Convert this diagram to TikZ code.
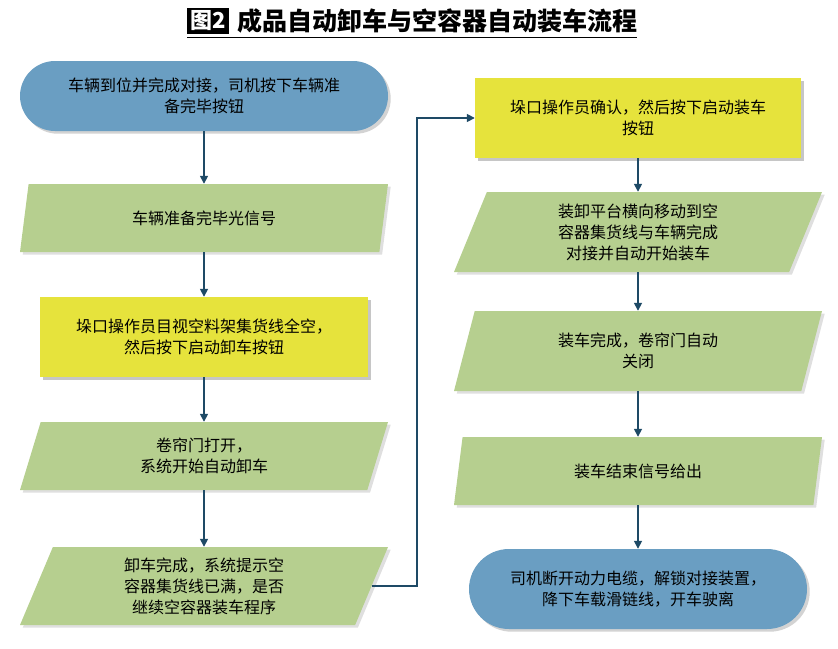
\documentclass[tikz,border=0pt]{standalone}
\usepackage{fontspec}
\setmainfont{Noto Sans CJK SC}
\usetikzlibrary{shapes.geometric,shapes.misc,shadows,arrows.meta,positioning}
\definecolor{termblue}{HTML}{6A9EC2}
\definecolor{iogreen}{HTML}{B6CF8F}
\definecolor{opyellow}{HTML}{E6E33C}
\definecolor{flowline}{HTML}{1E4A66}
\tikzset{
  every node/.style={font=\fontsize{16}{21}\selectfont, align=center, inner sep=0pt},
  terminal/.style={rounded rectangle, fill=termblue, minimum width=368pt, minimum height=70pt,
    drop shadow={opacity=0.35}},
  io/.style={trapezium, trapezium left angle=60, trapezium right angle=120, trapezium stretches body,
    fill=iogreen, minimum width=368pt, minimum height=68pt, drop shadow={opacity=0.25}},
  op/.style={rectangle, fill=opyellow, minimum width=328pt, minimum height=80pt,
    drop shadow={opacity=0.45}},
  flow/.style={draw=flowline, line width=1.6pt, -{Triangle[length=8pt,width=8pt]}}
}
\begin{document}
\begin{tikzpicture}[x=1pt,y=-1pt]
\useasboundingbox (0,0) rectangle (838,648);
% title
\node[fill=black, text=white, font=\fontsize{22}{24}\selectfont\bfseries, inner sep=3pt] (tag) at (208,21) {图2};
\node[right=8pt of tag, font=\fontsize{25}{28}\selectfont\bfseries] (title) {成品自动卸车与空容器自动装车流程};
\draw[line width=1pt] ([yshift=-3pt]tag.south west) -- ([yshift=-3pt]tag.south west -| title.east);
% left column
\node[terminal] (s1) at (204,96) {车辆到位并完成对接，司机按下车辆准\\备完毕按钮};
\node[io] (s2) at (204,218) {车辆准备完毕光信号};
\node[op] (s3) at (204,337) {垛口操作员目视空料架集货线全空，\\然后按下启动卸车按钮};
\node[io] (s4) at (204,456) {卷帘门打开，\\系统开始自动卸车};
\node[io, minimum height=78pt] (s5) at (204,586) {卸车完成，系统提示空\\容器集货线已满，是否\\继续空容器装车程序};
% right column
\node[op, minimum width=326pt] (s6) at (638,118) {垛口操作员确认，然后按下启动装车\\按钮};
\node[io, minimum height=80pt] (s7) at (638,232) {装卸平台横向移动到空\\容器集货线与车辆完成\\对接并自动开始装车};
\node[io, minimum height=80pt] (s8) at (638,351) {装车完成，卷帘门自动\\关闭};
\node[io] (s9) at (638,471) {装车结束信号给出};
\node[terminal, minimum width=338pt, minimum height=80pt] (s10) at (638,589) {司机断开动力电缆，解锁对接装置，\\降下车载滑链线，开车驶离};
% connectors
\draw[flow] (s1) -- (s2);
\draw[flow] (s2) -- (s3);
\draw[flow] (s3) -- (s4);
\draw[flow] (s4) -- (s5);
\draw[flow] (s5.east) -- ++(45,0) |- (s6.west);
\draw[flow] (s6) -- (s7);
\draw[flow] (s7) -- (s8);
\draw[flow] (s8) -- (s9);
\draw[flow] (s9) -- (s10);
\end{tikzpicture}
\end{document}
